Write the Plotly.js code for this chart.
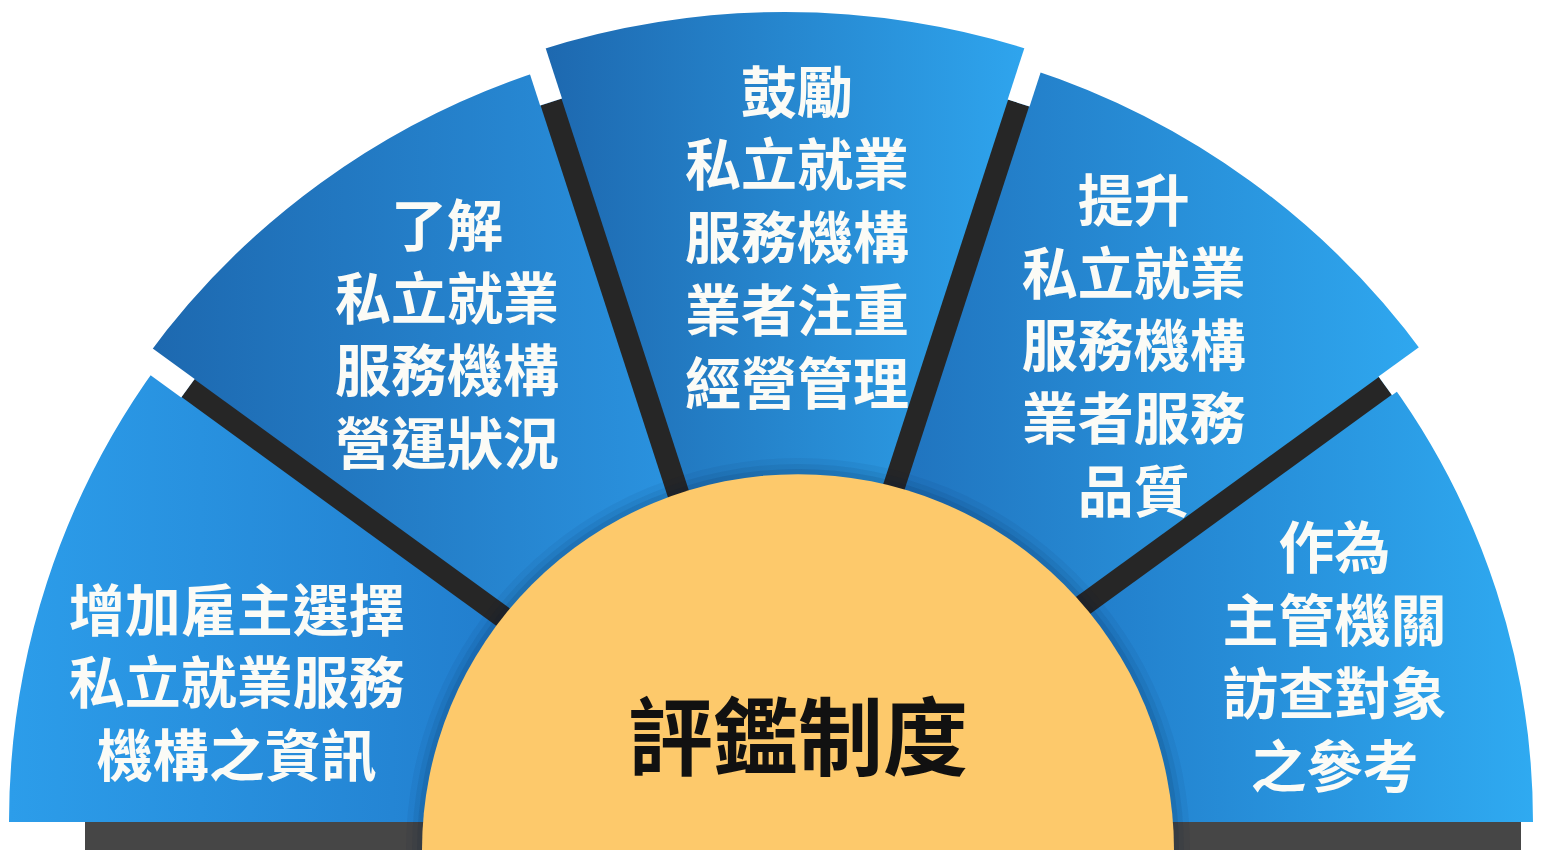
<!DOCTYPE html>
<html>
<head>
<meta charset="utf-8">
<script src="https://cdn.plot.ly/plotly-3.0.1.min.js"></script>
<style>
  html, body { margin: 0; padding: 0; overflow: hidden; background: #ffffff; width: 1567px; height: 850px; }
  #chart { position: absolute; left: -27px; top: 0; width: 1624px; height: 850px; }
</style>
</head>
<body>
<div id="chart"></div>
<script>
// ---------------- data ----------------
const segmentLabels = [
  '增加雇主選擇<br>私立就業服務<br>機構之資訊',
  '了解<br>私立就業<br>服務機構<br>營運狀況',
  '鼓勵<br>私立就業<br>服務機構<br>業者注重<br>經營管理',
  '提升<br>私立就業<br>服務機構<br>業者服務<br>品質',
  '作為<br>主管機關<br>訪查對象<br>之參考'
];
const segmentTheta = [162, 126, 90, 54, 18];        // centre angle of each sector (deg)
const segmentSpan = [36, 36, 36, 36, 36];           // angular width of each sector (deg)
const segmentOuter = [776, 790, 810, 792, 748];     // outer radius of each sector
const dividerTheta = [144, 108, 72, 36];            // borders between sectors
const dividerDarkEnd = [738, 757, 756, 742];        // where the dark part of each border ends
const centerTitle = ['評鑑制度'];

// ---------------- layout constants ----------------
const W = 1624, H = 850;
const R1 = 812, CY = 822;                 // main half-disc (px)
const innerBase = 250;                    // hidden below the yellow hub
const C2X = 825, R2 = 400, hubR = 376;    // yellow hub
const labelTheta = [166.4, 125.1, 88.8, 53.4, 16.1];
const labelR = [564, 588, 578, 585, 572];

const segGradients = [
  ['#2c9dea', '#2079c9'],
  ['#1d68af', '#2b95e2'],
  ['#1d67ae', '#2fa6ef'],
  ['#1f70bb', '#2fa8f0'],
  ['#1f74c2', '#2faaf1']
];
const flatColors = ['#2790e0', '#247fcb', '#2688d2', '#278cd8', '#2791de'];

const traces = [];

traces.push({
  type: 'barpolar', subplot: 'polar',
  theta: segmentTheta,
  width: segmentSpan,
  base: segmentOuter.map(() => innerBase),
  r: segmentOuter.map(v => v - innerBase),
  marker: { color: flatColors, line: { width: 0 } },
  hoverinfo: 'skip'
});

dividerTheta.forEach((t, i) => {
  traces.push({
    type: 'scatterpolar', subplot: 'polar', mode: 'lines',
    r: [innerBase, dividerDarkEnd[i]], theta: [t, t],
    line: { color: '#262626', width: 22 },
    hoverinfo: 'skip', showlegend: false
  });
  traces.push({
    type: 'scatterpolar', subplot: 'polar', mode: 'lines',
    r: [dividerDarkEnd[i], R1], theta: [t, t],
    line: { color: '#ffffff', width: 23 },
    hoverinfo: 'skip', showlegend: false
  });
});

traces.push({
  type: 'scatterpolar', subplot: 'polar', mode: 'text',
  r: labelR, theta: labelTheta, text: segmentLabels,
  textposition: 'middle center',
  textfont: { family: '"Noto Sans CJK TC", "Noto Sans CJK SC", sans-serif', size: 56, color: '#fbfbf6', weight: 'bold' },
  hoverinfo: 'skip', showlegend: false
});

// hub shadow + yellow hub
[[16, 0.05], [10, 0.07], [5, 0.09]].forEach(([extra, a]) => {
  traces.push({
    type: 'barpolar', subplot: 'polar2', r: [hubR + extra], theta: [90], width: [180],
    marker: { color: 'rgba(0,25,60,' + a + ')', line: { width: 0 } }, hoverinfo: 'skip'
  });
});
traces.push({
  type: 'barpolar', subplot: 'polar2', r: [hubR], theta: [90], width: [180],
  marker: { color: '#fdc96b', line: { width: 0 } }, hoverinfo: 'skip'
});
traces.push({
  type: 'scatterpolar', subplot: 'polar2', mode: 'text',
  r: [102], theta: [90], text: centerTitle, textposition: 'middle center',
  textfont: { family: '"Noto Sans CJK TC", "Noto Sans CJK SC", sans-serif', size: 85, color: '#111111', weight: 'bold' },
  hoverinfo: 'skip', showlegend: false
});

function hiddenPolar(range, domain) {
  return {
    domain: domain,
    sector: [0, 180],
    bgcolor: 'rgba(0,0,0,0)',
    barmode: 'overlay',
    radialaxis: { visible: false, range: range, showgrid: false, showline: false, showticklabels: false, ticks: '' },
    angularaxis: { visible: false, rotation: 0, direction: 'counterclockwise', showgrid: false, showline: false, showticklabels: false, ticks: '' }
  };
}

const layout = {
  width: W, height: H,
  margin: { l: 0, r: 0, t: 0, b: 0, pad: 0 },
  paper_bgcolor: '#ffffff',
  showlegend: false,
  polar: hiddenPolar([0, R1], { x: [0, 1], y: [(H - CY) / H, (H - CY + R1) / H] }),
  polar2: hiddenPolar([0, R2], { x: [(C2X - R2) / W, (C2X + R2) / W], y: [0, R2 / H] }),
  shapes: [{
    type: 'rect', xref: 'paper', yref: 'paper', layer: 'below',
    x0: 112 / W, x1: 1548 / W, y0: 0, y1: (H - CY) / H,
    fillcolor: '#464646', line: { width: 0 }
  }]
};

const gd = document.getElementById('chart');
Plotly.newPlot(gd, traces, layout, { staticPlot: true, displayModeBar: false }).then(() => {
  const svg = gd.querySelector('svg.main-svg');
  let defs = svg.querySelector('defs');
  const NS = 'http://www.w3.org/2000/svg';
  segGradients.forEach((g, i) => {
    const lg = document.createElementNS(NS, 'linearGradient');
    lg.setAttribute('id', 'segGrad' + i);
    lg.setAttribute('x1', '0'); lg.setAttribute('y1', '0');
    lg.setAttribute('x2', '1'); lg.setAttribute('y2', '0');
    [[0, g[0]], [1, g[1]]].forEach(([o, c]) => {
      const st = document.createElementNS(NS, 'stop');
      st.setAttribute('offset', o);
      st.setAttribute('stop-color', c);
      lg.appendChild(st);
    });
    defs.appendChild(lg);
  });
  const paths = gd.querySelectorAll('g.polar .barlayer .point path');
  paths.forEach((p, i) => { if (i < segGradients.length) p.style.fill = 'url(#segGrad' + i + ')'; });
});
</script>
</body>
</html>
